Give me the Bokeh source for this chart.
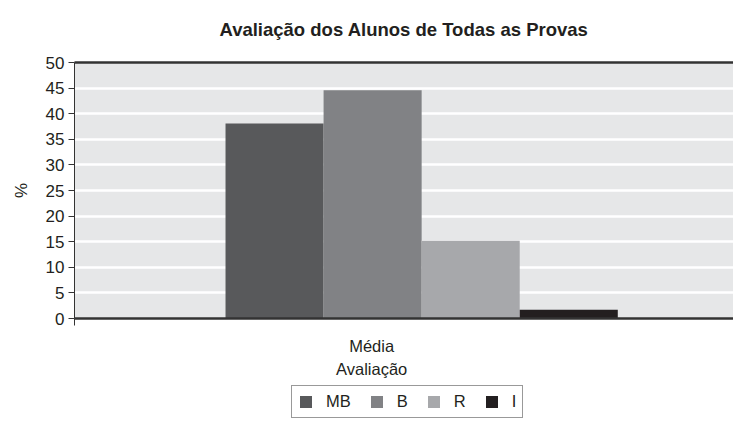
from bokeh.plotting import figure
from bokeh.layouts import column
from bokeh.models import (ColumnDataSource, Range1d, FixedTicker, LinearAxis, Legend, LegendItem, Title)
from bokeh.embed import file_html
from bokeh.resources import INLINE

title_text = "Avaliação dos Alunos de Todas as Provas"
category = "Média\nAvaliação"
series = ["MB", "B", "R", "I"]
values = [38.1, 44.6, 15.2, 1.7]
colors = ["#58595b", "#818285", "#a7a8ab", "#231f20"]
y_ticks = [0, 5, 10, 15, 20, 25, 30, 35, 40, 45, 50]

FONT = "Liberation Sans"
TXT = "#231f20"

PH = 380
p = figure(width=733, height=PH, output_backend="svg", toolbar_location=None,
           x_range=Range1d(-2.04, 4.68), y_range=Range1d(0, 50),
           min_border_left=74, min_border_right=0, min_border_top=62, min_border_bottom=40)
p.title = None
xa = p.below[0]
ya = p.left[0]

top_axis = LinearAxis(ticker=FixedTicker(ticks=[]), axis_line_color="#333333", axis_line_width=2.5,
                      major_label_text_font_size="0px", major_tick_line_color=None,
                      minor_tick_line_color=None)
p.add_layout(top_axis, "above")

spacer = Title(text=" ", text_font=FONT, text_font_size="18.5px", standoff=0)
p.add_layout(spacer, "above")

t = Title(text=title_text, text_font=FONT, text_font_size="18.5px", text_font_style="bold",
          text_color=TXT, align="center", standoff=0)
p.add_layout(t, "above")

p.background_fill_color = "#e6e7e8"
p.border_fill_color = "white"
p.outline_line_color = None

sources = []
for i, v in enumerate(values):
    sources.append(ColumnDataSource(dict(x=[i], top=[v])))

for src, c in zip(sources, colors):
    p.vbar(x="x", top="top", width=1.0, bottom=0, source=src, fill_color=c, line_color=None)

p.xgrid.visible = False
p.ygrid.grid_line_color = "white"
p.ygrid.grid_line_width = 2.5
p.ygrid.ticker = FixedTicker(ticks=y_ticks)

ya.ticker = FixedTicker(ticks=y_ticks)
ya.axis_label = "%"
ya.axis_label_text_font = FONT
ya.axis_label_text_font_size = "17px"
ya.axis_label_text_font_style = "normal"
ya.axis_label_text_color = TXT
ya.axis_label_standoff = 12
ya.major_label_text_font = FONT
ya.major_label_text_font_size = "17px"
ya.major_label_text_color = TXT
ya.major_label_standoff = 4
ya.major_tick_in = 0
ya.major_tick_out = 6
ya.major_tick_line_color = "#333333"
ya.minor_tick_line_color = None
ya.axis_line_color = "#333333"
ya.axis_line_width = 1

xa.ticker = FixedTicker(ticks=[0.99], minor_ticks=[-2.04])
xa.major_label_overrides = {0.99: category}
xa.major_label_text_font = FONT
xa.major_label_text_font_size = "16.5px"
xa.major_label_text_line_height = 1.3
xa.major_label_text_color = TXT
xa.major_label_standoff = 11
xa.major_tick_line_color = None
xa.minor_tick_in = 0
xa.minor_tick_out = 7
xa.minor_tick_line_color = "#333333"
xa.axis_line_color = "#333333"
xa.axis_line_width = 2.5

# legend figure (bars drawn out of view; only the legend is visible)
LH = 427 - PH
q = figure(width=733, height=LH, output_backend="svg", toolbar_location=None,
           x_range=Range1d(-2.04, 4.68), y_range=Range1d(100, 101),
           min_border=0, x_axis_type=None, y_axis_type=None)
q.title = None
q.outline_line_color = None
q.xgrid.visible = False
q.ygrid.visible = False
q.background_fill_color = "white"
q.border_fill_color = "white"

items = []
for name, src, c in zip(series, sources, colors):
    r = q.vbar(x="x", top="top", width=1.0, bottom=0, source=src, fill_color=c, line_color=None)
    items.append(LegendItem(label=name, renderers=[r]))

legend = Legend(items=items, orientation="horizontal", location=(291 - 74, LH - 7 - 31),
                label_text_font=FONT, label_text_font_size="16.5px", label_text_color=TXT,
                glyph_width=15, glyph_height=15, spacing=18, label_standoff=13,
                label_width=1, padding=6, margin=0,
                border_line_color="#333333", border_line_width=1,
                background_fill_color="white", background_fill_alpha=1.0)
q.add_layout(legend, "center")

layout = column(p, q, spacing=0)
open("out.html", "w").write(file_html(layout, INLINE))
